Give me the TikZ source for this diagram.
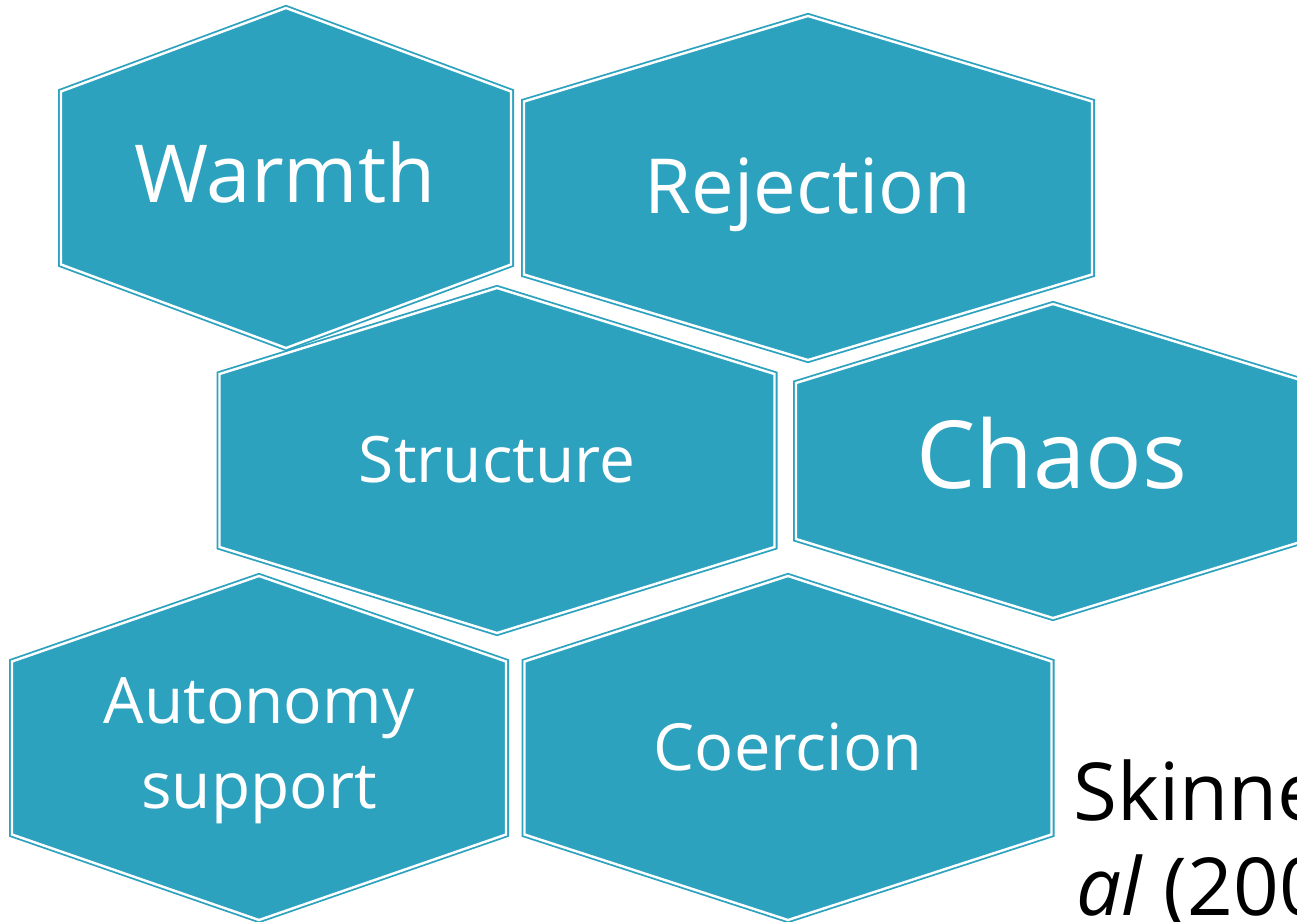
\documentclass[tikz,border=0pt]{standalone}
\usepackage{fontspec}
\setmainfont{Open Sans}
\definecolor{hexteal}{RGB}{45,162,191}
% hexagon: centre (#1,#2), half width #3, half height #4, half side height #5
\newcommand\drawhex[5]{%
  \path[hexcell] (#1,#2-#4) -- (#1+#3,#2-#5) -- (#1+#3,#2+#5)
    -- (#1,#2+#4) -- (#1-#3,#2+#5) -- (#1-#3,#2-#5) -- cycle;}
\tikzset{
  hexcell/.style={fill=hexteal, draw=hexteal, line width=1.8pt,
    double=white, double distance=2.4pt, line join=miter},
  celltext/.style={text=white, anchor=base, inner sep=0pt, align=center},
}
\begin{document}
\begin{tikzpicture}[x=1pt, y=-1pt]
  \useasboundingbox (0,0) rectangle (1297,921);
  \clip (0,0) rectangle (1297,921);
  % honeycomb cells
  \drawhex{286}{178}{225}{170}{86.5}
  \drawhex{808}{188}{284}{172}{86.5}
  \drawhex{497}{460.5}{277.5}{172.5}{86.5}
  \drawhex{1053}{461}{257}{157}{78}
  \drawhex{259}{748}{247}{172}{86.5}
  \drawhex{788}{748}{263.5}{172}{86.5}
  % labels
  \node[celltext, font=\fontsize{80}{96}\selectfont] (warmth) at (285,202) {Warmth};
  \node[celltext, font=\fontsize{76}{92}\selectfont] (rejection) at (808,213) {Rejection};
  \node[celltext, font=\fontsize{64}{80}\selectfont] (structure) at (497,482) {Structure};
  \node[celltext, font=\fontsize{94}{112}\selectfont] (chaos) at (1052,488) {Chaos};
  \node[celltext, font=\fontsize{64}{85}\selectfont] (autonomy) at (259,723) {Autonomy};
  \node[celltext, font=\fontsize{64}{85}\selectfont] (support) at (259,808) {support};
  \node[celltext, font=\fontsize{65}{80}\selectfont] (coercion) at (788,770) {Coercion};
  % citation, running past the right edge
  \node[anchor=base west, inner sep=0pt, font=\fontsize{80}{95}\selectfont] (cite1) at (1073,820) {Skinner \textit{et}};
  \node[anchor=base west, inner sep=0pt, font=\fontsize{80}{95}\selectfont] (cite2) at (1076,915) {\textit{al} (2005)};
\end{tikzpicture}
\end{document}
